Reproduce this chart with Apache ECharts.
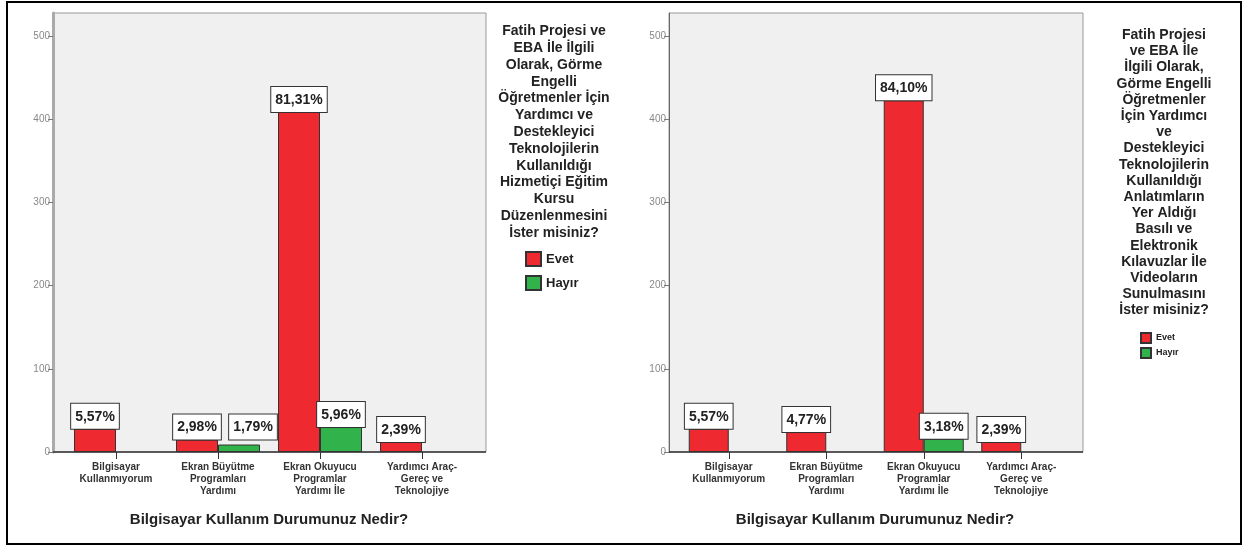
<!DOCTYPE html>
<html>
<head>
<meta charset="utf-8">
<script src="https://cdn.jsdelivr.net/npm/echarts@6/dist/echarts.min.js"></script>
<style>
html,body{margin:0;padding:0;background:#fff;}
#c{width:1249px;height:549px;}
</style>
</head>
<body>
<div id="c"></div>
<script>
// ---------- DATA ----------
const categories = [
  'Bilgisayar\nKullanmıyorum',
  'Ekran Büyütme\nProgramları\nYardımı',
  'Ekran Okuyucu\nProgramlar\nYardımı İle',
  'Yardımcı Araç-\nGereç ve\nTeknolojiye'
];
const seriesNames = ['Evet', 'Hayır'];

const leftEvet = [28, 15, 409, 12];
const leftEvetPct = [5.57, 2.98, 81.31, 2.39];
const leftHayir = [null, 9, 30, null];
const leftHayirPct = [null, 1.79, 5.96, null];

const rightEvet = [28, 24, 423, 12];
const rightEvetPct = [5.57, 4.77, 84.10, 2.39];
const rightHayir = [null, null, 16, null];
const rightHayirPct = [null, null, 3.18, null];

const yTicks = [0, 100, 200, 300, 400, 500];
const yMax = 528;

const xAxisTitle = 'Bilgisayar Kullanım Durumunuz Nedir?';
const leftLegendTitle = [
  'Fatih Projesi ve', 'EBA İle İlgili', 'Olarak, Görme', 'Engelli',
  'Öğretmenler İçin', 'Yardımcı ve', 'Destekleyici', 'Teknolojilerin',
  'Kullanıldığı', 'Hizmetiçi Eğitim', 'Kursu', 'Düzenlenmesini', 'İster misiniz?'
];
const rightLegendTitle = [
  'Fatih Projesi', 've EBA İle', 'İlgili Olarak,', 'Görme Engelli',
  'Öğretmenler', 'İçin Yardımcı', 've', 'Destekleyici', 'Teknolojilerin',
  'Kullanıldığı', 'Anlatımların', 'Yer Aldığı', 'Basılı ve', 'Elektronik',
  'Kılavuzlar İle', 'Videoların', 'Sunulmasını', 'İster misiniz?'
];

// ---------- LAYOUT / STYLE ----------
const FONT = '"Liberation Sans", Arial, sans-serif';
const RED = '#ee2a30';
const GREEN = '#31b24a';
const PLOT_TOP = 13, PLOT_BOTTOM = 452;
const panels = [
  {gridLeft: 65, gridWidth: 408, plotLeft: 53, plotRight: 486, barWidth: 42,
   yLineWidth: 3, yLineColor: '#aaaaaa', yOffset: 12},
  {gridLeft: 680, gridWidth: 390, plotLeft: 669, plotRight: 1083, barWidth: 40,
   yLineWidth: 1, yLineColor: '#666666', yOffset: 11}
];

function fmtPct(v) { return v.toFixed(2).replace('.', ',') + '%'; }

const labelStyle = {
  show: true,
  position: 'top',
  distance: 0,
  fontFamily: FONT,
  fontSize: 14,
  fontWeight: 'bold',
  color: '#222',
  backgroundColor: '#ffffff',
  borderColor: '#333',
  borderWidth: 1,
  padding: [5, 4, 4, 4],
  lineHeight: 16
};

function makeSeries(name, values, pcts, idx, color, barWidth, labelOverrides) {
  return {
    name: name,
    type: 'bar',
    xAxisIndex: idx,
    yAxisIndex: idx,
    barWidth: barWidth,
    barGap: '0%',
    itemStyle: {color: color, borderColor: '#333', borderWidth: 1},
    label: Object.assign({}, labelStyle, {
      formatter: p => (pcts[p.dataIndex] == null ? '' : fmtPct(pcts[p.dataIndex]))
    }),
    data: values.map((v, i) => {
      if (labelOverrides && labelOverrides[i]) {
        return {value: v, label: labelOverrides[i]};
      }
      return v;
    }),
    z: 3
  };
}

const grids = panels.map(p => ({
  left: p.gridLeft, top: PLOT_TOP, width: p.gridWidth, height: PLOT_BOTTOM - PLOT_TOP
}));

const xAxes = panels.map((p, i) => ({
  type: 'category',
  gridIndex: i,
  data: categories,
  axisLine: {show: false},
  axisTick: {show: true, alignWithLabel: true, length: 7, lineStyle: {color: '#333', width: 1}},
  axisLabel: {
    interval: 0, margin: 9, fontFamily: FONT, fontSize: 10, fontWeight: 'bold',
    color: '#333', lineHeight: 12
  },
  name: xAxisTitle,
  nameLocation: 'middle',
  nameGap: 60,
  nameTextStyle: {fontFamily: FONT, fontSize: 15, fontWeight: 'bold', color: '#222'}
}));

const yAxes = panels.map((p, i) => ({
  type: 'value',
  gridIndex: i,
  min: 0,
  max: yMax,
  interval: 100,
  offset: p.yOffset,
  splitLine: {show: false},
  axisLine: {show: true, lineStyle: {color: p.yLineColor, width: p.yLineWidth}},
  axisTick: {show: true, length: 5, customValues: yTicks, lineStyle: {color: '#777'}},
  axisLabel: {
    customValues: yTicks, margin: 3, fontFamily: FONT, fontSize: 10, color: '#888'
  }
}));

const series = [
  makeSeries(seriesNames[0], leftEvet, leftEvetPct, 0, RED, panels[0].barWidth),
  makeSeries(seriesNames[1], leftHayir, leftHayirPct, 0, GREEN, panels[0].barWidth,
             {1: {offset: [14, -5]}}),
  makeSeries(seriesNames[0], rightEvet, rightEvetPct, 1, RED, panels[1].barWidth),
  makeSeries(seriesNames[1], rightHayir, rightHayirPct, 1, GREEN, panels[1].barWidth)
];

const graphics = [
  {type: 'rect', z: -10, shape: {x: 7, y: 2, width: 1234, height: 542},
   style: {fill: 'none', stroke: '#000', lineWidth: 2}}
];
panels.forEach(p => {
  graphics.push({type: 'rect', z: -5,
    shape: {x: p.plotLeft, y: PLOT_TOP, width: p.plotRight - p.plotLeft, height: PLOT_BOTTOM - PLOT_TOP},
    style: {fill: '#f0f0f0', stroke: '#9a9a9a', lineWidth: 1}});
  graphics.push({type: 'line', z: 20,
    shape: {x1: p.plotLeft, y1: PLOT_BOTTOM, x2: p.plotRight, y2: PLOT_BOTTOM},
    style: {stroke: '#333', lineWidth: 1.5}});
});
graphics.push({type: 'text', z: 20,
  style: {text: leftLegendTitle.join('\n'), x: 554, y: 23, align: 'center', verticalAlign: 'top',
    font: 'bold 14px ' + FONT, lineHeight: 16.8, fill: '#222'}});
graphics.push({type: 'text', z: 20,
  style: {text: rightLegendTitle.join('\n'), x: 1164, y: 27, align: 'center', verticalAlign: 'top',
    font: 'bold 14px ' + FONT, lineHeight: 16.2, fill: '#222'}});

const option = {
  animation: false,
  backgroundColor: '#ffffff',
  grid: grids,
  xAxis: xAxes,
  yAxis: yAxes,
  legend: [
    {orient: 'vertical', left: 525, top: 251, padding: 0, itemWidth: 15, itemHeight: 14,
     itemGap: 8, icon: 'rect', data: seriesNames,
     textStyle: {fontFamily: FONT, fontSize: 13, fontWeight: 'bold', color: '#222'}},
    {orient: 'vertical', left: 1140, top: 332, padding: 0, itemWidth: 10, itemHeight: 10,
     itemGap: 3, icon: 'rect', data: seriesNames,
     textStyle: {fontFamily: FONT, fontSize: 9, fontWeight: 'bold', color: '#222'}}
  ],
  graphic: graphics,
  series: series
};

const chart = echarts.init(document.getElementById('c'), null, {renderer: 'canvas'});
chart.setOption(option);
</script>
</body>
</html>
